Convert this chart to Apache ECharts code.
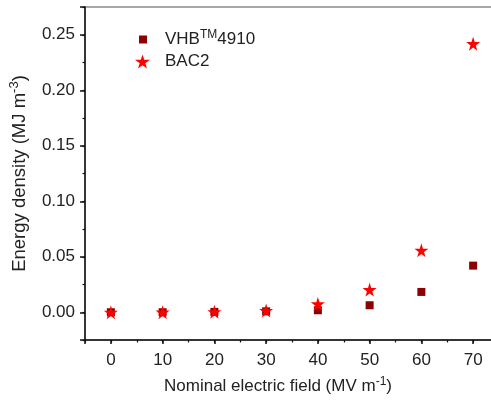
<!DOCTYPE html>
<html>
<head>
<meta charset="utf-8">
<script src="https://cdn.jsdelivr.net/npm/echarts@6/dist/echarts.min.js"></script>
<style>
html,body{margin:0;padding:0;background:#fff;}
#main{width:491px;height:400px;}
</style>
</head>
<body>
<div id="main"></div>
<script>
// data
var fieldX = [0, 10, 20, 30, 40, 50, 60, 70];             // MV m-1
var vhbY = [0, 0, 0.0003, 0.0008, 0.0018, 0.0063, 0.0183, 0.042];
var bac2Y = [0, 0.0001, 0.0004, 0.0015, 0.0075, 0.0204, 0.0558, 0.242];
var seriesNames = ['VHB', 'BAC2'];

var STAR = 'path://M50,0 L61,35 L98,35 L68,57 L79,91 L50,70 L21,91 L32,57 L2,35 L39,35 Z';
var FONT = 'Liberation Sans';

function pairs(xs, ys){
    var out = [];
    for (var i = 0; i < xs.length; i++) out.push([xs[i], ys[i]]);
    return out;
}
function onStep(v, step){
    var r = v / step;
    return Math.abs(r - Math.round(r)) < 1e-6;
}
function supRich(size){
    return {
        a: {fontFamily: FONT, fontSize: size, color: '#222'},
        s: {fontFamily: FONT, fontSize: Math.round(size * 0.68), color: '#222', padding: [0, 0, Math.round(size * 0.55), 0]}
    };
}

var chart = echarts.init(document.getElementById('main'));
var option = {
    backgroundColor: '#fff',
    animation: false,
    grid: {
        left: 85, top: 7, right: -8, bottom: 60,
        outerBoundsMode: 'none', containLabel: false,
        show: true, borderColor: '#8a8a8a', borderWidth: 1.5
    },
    legend: [{
        data: [{name: 'VHB', icon: 'rect'}],
        orient: 'vertical', left: 134, top: 24,
        itemWidth: 8, itemHeight: 8,
        formatter: '{a|VHB}{s|TM}{a|4910}',
        textStyle: {padding: [0, 0, 0, 13], rich: supRich(17)}
    }, {
        data: [{name: 'BAC2', icon: STAR}],
        orient: 'vertical', left: 130, top: 48,
        itemWidth: 15, itemHeight: 15,
        textStyle: {fontFamily: FONT, fontSize: 17, color: '#222', padding: [0, 0, 0, 10]}
    }],
    xAxis: [{
        type: 'value', min: -5, max: 75, splitNumber: 8,
        name: '{a|Nominal electric field (MV m}{s|-1}{a|)}',
        nameLocation: 'middle', nameGap: 36,
        nameTextStyle: {rich: supRich(17), padding: [0, 28, 0, 0]},
        axisLine: {onZero: false, lineStyle: {color: '#111', width: 1.5}},
        axisTick: {inside: false, length: 4, lineStyle: {color: '#111', width: 1.5}},
        axisLabel: {
            fontFamily: FONT, fontSize: 17, color: '#222', margin: 12,
            formatter: function(v){ return onStep(v, 10) ? String(v) : ''; }
        },
        splitLine: {show: false}
    }, {
        // minor ticks every 5
        type: 'value', min: -5, max: 75, interval: 5, position: 'bottom',
        axisLine: {show: false, onZero: false},
        axisTick: {length: 2.5, lineStyle: {color: '#111', width: 1.2}},
        axisLabel: {show: false},
        splitLine: {show: false}
    }],
    yAxis: [{
        type: 'value', min: -0.025, max: 0.275, splitNumber: 6,
        name: '{a|Energy density (MJ m}{s|-3}{a|)}',
        nameLocation: 'middle', nameGap: 54, nameRotate: 90,
        nameTextStyle: {rich: supRich(18.5)},
        axisLine: {onZero: false, lineStyle: {color: '#111', width: 1.5}},
        axisTick: {inside: false, length: 5, lineStyle: {color: '#111', width: 1.5}},
        axisLabel: {
            fontFamily: FONT, fontSize: 17, color: '#222', margin: 10,
            formatter: function(v){ return onStep(v, 0.05) ? v.toFixed(2) : ''; }
        },
        splitLine: {show: false}
    }, {
        type: 'value', min: -0.025, max: 0.275, interval: 0.025, position: 'left',
        axisLine: {show: false, onZero: false},
        axisTick: {length: 2.5, lineStyle: {color: '#111', width: 1.2}},
        axisLabel: {show: false},
        splitLine: {show: false}
    }],
    series: [{
        name: seriesNames[0],
        type: 'scatter',
        symbol: 'rect', symbolSize: 8,
        itemStyle: {color: '#8b0000', opacity: 1},
        data: pairs(fieldX, vhbY),
        z: 2
    }, {
        name: seriesNames[1],
        type: 'scatter',
        symbol: STAR, symbolSize: 14,
        itemStyle: {color: '#ff0000', opacity: 1},
        data: pairs(fieldX, bac2Y),
        z: 3
    }]
};
chart.setOption(option);
</script>
</body>
</html>
